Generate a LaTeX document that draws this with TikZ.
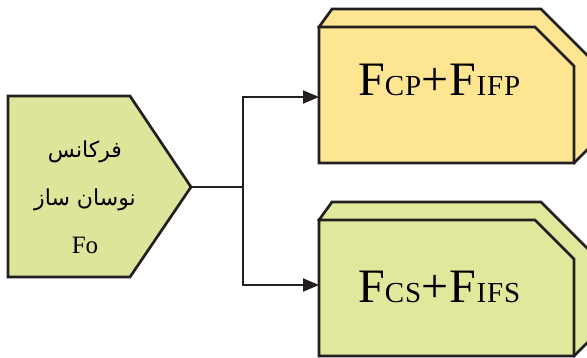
\documentclass[tikz,border=0pt]{standalone}
\usepackage{fontspec}
\setmainfont{Liberation Serif}
\newfontfamily\boxfont[LetterSpace=3.2]{Liberation Serif}
\newfontfamily\arabicfont[Script=Arabic]{DejaVu Sans}
\TeXXeTstate=1
\usetikzlibrary{calc}
\usetikzlibrary{arrows.meta}
\definecolor{lineDark}{RGB}{35,31,32}
\definecolor{cpColor}{RGB}{254,229,146}
\definecolor{csColor}{RGB}{224,232,155}
\definecolor{oscColor}{RGB}{221,229,154}
\newcommand{\capBig}[1]{{\fontsize{48}{48}\selectfont #1}}
\newcommand{\capSmall}[1]{{\fontsize{29}{29}\selectfont #1}}
\tikzset{
    face/.style={ % fill colour as argument
    ,   draw=lineDark
    ,   fill=#1
    ,   line width=2.7pt
    ,   line join=miter
    },
    link/.style={
    ,   draw=lineDark
    ,   line width=2pt
    },
    linkArrow/.style={
    ,   link
    ,   -{Triangle[length=16pt,width=13pt]}
    },
}

\begin{document}
\begin{tikzpicture}[x=1pt, y=-1pt, inner sep=0pt]
			\useasboundingbox (0,0) rectangle (587,357);
			
			% oscillator
			\draw[face=oscColor] (8,96) -- (130,96) -- (191,187) -- (130,277) -- (8,277) -- cycle;
			\coordinate (oscTip) at (191,187);
			\node[align=center, font={\fontsize{22}{48}\selectfont}] (oscText) at (85,197)
				{{\arabicfont\beginR فرکانس\endR}\\{\arabicfont\beginR نوسان ساز\endR}\\{\fontsize{25}{48}\selectfont Fo}};
			
			% the two mixer outputs, back face first
			\foreach \name/\dy/\col/\base/\txt in {
				cp/0/cpColor/95/{\capBig{F}\capSmall{CP}\capBig{+F}\capSmall{IFP}},
				cs/193/csColor/302/{\capBig{F}\capSmall{CS}\capBig{+F}\capSmall{IFS}}}{
				\draw[face=\col] (319,27+\dy) -- (332,9+\dy) -- (541,9+\dy) -- (590,58+\dy)
					-- (590,147+\dy) -- (574,163+\dy) -- cycle;
				\draw[face=\col] (319,27+\dy) -- (535,27+\dy) -- (574,66+\dy) -- (574,163+\dy)
					-- (319,163+\dy) -- cycle;
				\node[anchor=base west, font=\boxfont] (\name) at (358,\base) {\txt};
			}
			\coordinate (fork) at (243,187);
			\coordinate (cpIn) at (319,97);
			\coordinate (csIn) at (319,285);
			
			\draw[link] (oscTip) -- (fork);
			\draw[linkArrow] (fork) |- (cpIn);
			\draw[linkArrow] (fork) |- (csIn);
\end{tikzpicture}
\end{document}
